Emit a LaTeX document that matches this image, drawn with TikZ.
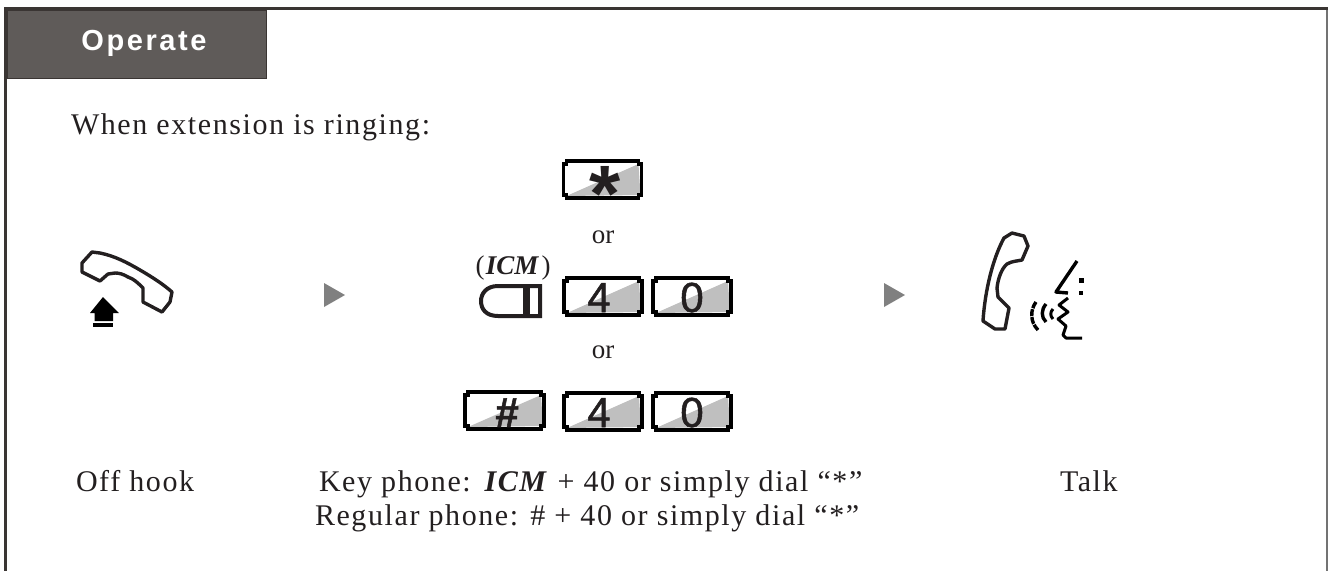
\documentclass[tikz,border=0pt]{standalone}
\usepackage{fontspec}
\setmainfont{Liberation Serif}
\newfontfamily\heros{Liberation Sans}
\definecolor{frameink}{HTML}{3A3533}
\definecolor{headfill}{HTML}{5F5B59}
\definecolor{inktext}{HTML}{231F20}
\tikzset{
  x=1pt,y=-1pt,
  body/.style={inner sep=0pt,outer sep=0pt,font=\fontsize{30}{36}\selectfont,text=inktext,anchor=base west},
  ortext/.style={inner sep=0pt,outer sep=0pt,font=\fontsize{27}{30}\selectfont,text=inktext,anchor=base},
  keyout/.style={draw=black,line width=3.4pt,line join=miter},
  keyglyph/.style={inner sep=0pt,font=\heros\fontsize{42}{42}\selectfont,text=inktext,anchor=base},
  icon/.style={draw=inktext,line width=3.4pt,line join=round},
  arrowtri/.style={fill=black!50,draw=none},
  facestroke/.style={draw=black,line width=3pt,line join=round}
}
\newcommand{\keycap}[5]{% name, x, y, width, glyph
  \coordinate (#1) at (#2,#3);
  \fill[white] (#2,#3) rectangle ++(#4,37);
  \fill[black!25] (#2+3,#3+35) -- (#2+#4-3,#3+3) -- (#2+#4-1,#3+34) -- cycle;
  \draw[keyout] (#2+3,#3) -- (#2+#4-3,#3) -- (#2+#4-3,#3+3) -- (#2+#4,#3+3) -- (#2+#4,#3+34) -- (#2+#4-3,#3+34) -- (#2+#4-3,#3+37) -- (#2+3,#3+37) -- (#2+3,#3+34) -- (#2,#3+34) -- (#2,#3+3) -- (#2+3,#3+3) -- cycle;
  #5
}
\begin{document}
\begin{tikzpicture}
\useasboundingbox (0,0) rectangle (1328,571);
% frame
\fill[black!55] (1326.4,8) rectangle (1328,571);
\fill[frameink] (4,7) rectangle (1328,10);
\fill[frameink] (4,7) rectangle (7,571);
% header
\node[draw=frameink,line width=0.8pt,fill=headfill,minimum width=259pt,minimum height=68pt,inner sep=0pt,anchor=north west] (hdr) at (7,10) {};
\node[inner sep=0pt,font=\heros\bfseries\fontsize{29}{29}\selectfont,text=white,anchor=base] (hdrtext) at (144,50) {\addfontfeature{LetterSpace=9}Operate};
% text
\node[body] (when) at (71,134) {\addfontfeature{LetterSpace=5.3}When extension is ringing:};
\node[ortext] (or1) at (603,243) {or};
\node[ortext] (or2) at (603,358) {or};
\node[body] (off) at (76,491) {\addfontfeature{LetterSpace=5.3}Off hook};
\node[body] (kp) at (319,491) {\addfontfeature{LetterSpace=5.3}Key phone: \textbf{\textit{ICM}} + 40 or simply dial “*”};
\node[body] (rp) at (315,525) {\addfontfeature{LetterSpace=5.3}Regular phone: \# + 40 or simply dial “*”};
\node[body] (talk) at (1060,491) {\addfontfeature{LetterSpace=5.3}Talk};
\node[ortext,font=\fontsize{27}{27}\selectfont] (icm) at (512.5,274) {\textbf{\textit{ICM}}};
\node[ortext,font=\fontsize{27}{27}\selectfont] (icml) at (480,274) {(};
\node[ortext,font=\fontsize{27}{27}\selectfont] (icmr) at (546,274) {)};
% keys
\keycap{kstar}{563.5}{161}{78}{\node[keyglyph,font=\heros\bfseries\fontsize{80}{80}\selectfont] (gstar) at (605,221) {*};}
\keycap{kfoura}{564}{278}{78}{\node[keyglyph,font=\heros\fontsize{42}{42}\selectfont\addfontfeature{FakeBold=1.2}] (gfoura) at (599,312) {4};}
\keycap{kzeroa}{653}{278}{78}{\node[keyglyph,font=\heros\fontsize{42}{42}\selectfont\addfontfeature{FakeBold=1.2}] (gzeroa) at (692,312) {0};}
\keycap{khash}{465}{392}{79}{\node[keyglyph,font=\heros\bfseries\fontsize{42}{42}\selectfont\addfontfeature{FakeBold=1.2}] (ghash) at (507,427) {\#};}
\keycap{kfourb}{564}{393}{78}{\node[keyglyph,font=\heros\fontsize{42}{42}\selectfont\addfontfeature{FakeBold=1.2}] (gfourb) at (599,427) {4};}
\keycap{kzerob}{653}{393}{78}{\node[keyglyph,font=\heros\fontsize{42}{42}\selectfont\addfontfeature{FakeBold=1.2}] (gzerob) at (692,427) {0};}
% ICM key
\draw[icon,line width=4pt,line join=miter] (540,286) -- (498,286) .. controls (486,286) and (481,294) .. (481,301) .. controls (481,309) and (486,316) .. (498,316) -- (540,316) -- cycle;
\fill[inktext] (522.5,286) rectangle (529.5,316);
% arrows
\fill[arrowtri] (324,283) -- (345,295) -- (324,307) -- cycle;
\fill[arrowtri] (884,283) -- (905,295) -- (884,307) -- cycle;
% off hook handset
\draw[icon] (92,252) -- (100,253) .. controls (115,256) and (128,263) .. (140,270) .. controls (152,277) and (163,284) .. (172,292) -- (170,302) -- (162,312) -- (143,302) -- (143,288) .. controls (138,283) and (134,279) .. (128,277) .. controls (123,274) and (119,273) .. (115,273) -- (108,274) -- (100,281) -- (82,272) -- (82,263) -- cycle;
\fill[black] (103,297) -- (119,313) -- (113,313) -- (113,321) -- (94.5,321) -- (94.5,313) -- (90,313) -- cycle;
\fill[black] (93,323) rectangle (113,327);
% talk handset
\draw[icon] (1004,238) .. controls (993,258) and (985,290) .. (983,321) -- (995,329) -- (1005,329) -- (1009,308) -- (998,297) -- (997,288) .. controls (998,278) and (1002,268) .. (1007,264) .. controls (1012,261) and (1018,261) .. (1022,260) -- (1028,246) -- (1024,236) -- (1012,233) -- cycle;
% sound arcs
\draw[facestroke,line width=3.4pt,dash pattern=on 7pt off 1pt] (1036,302) .. controls (1030,310) and (1030,322) .. (1038,330);
\draw[facestroke,line width=3.4pt] (1046,304) .. controls (1041,310) and (1041,317) .. (1046,322);
\draw[facestroke] (1053,309) .. controls (1050,312) and (1050,316) .. (1053,319);
% face
\draw[facestroke,line width=3.4pt] (1077,261) -- (1056,292) -- (1068,293);
\fill[black] (1079,278) rectangle (1084,283);
\fill[black] (1079,291) rectangle (1083,295);
\draw[facestroke] (1068,298) -- (1059,305) -- (1068,312) -- (1058,319) -- (1066,326) -- (1063,335) -- (1066,338) -- (1082,338);
\end{tikzpicture}
\end{document}
